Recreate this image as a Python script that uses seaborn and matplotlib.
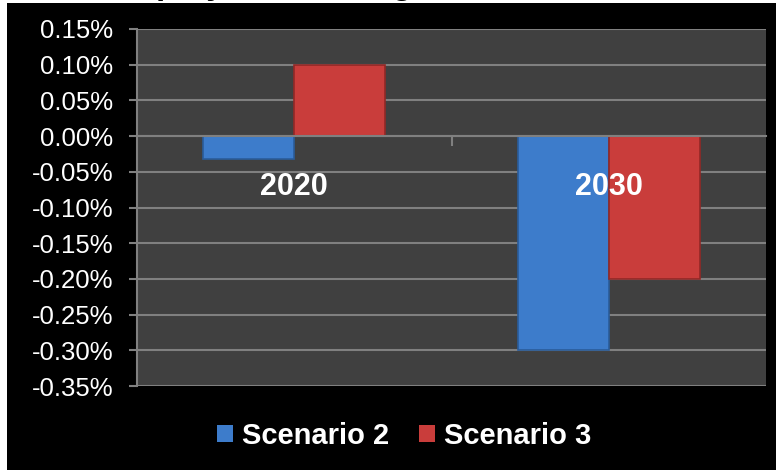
import matplotlib
matplotlib.use("Agg")
import matplotlib.pyplot as plt
from matplotlib.patches import Rectangle
from matplotlib.ticker import FixedLocator, FuncFormatter
import pandas as pd
import seaborn as sns

# Employment change by year and scenario (percent)
years = ["2020", "2030"]
scenarios = ["Scenario 2", "Scenario 3"]
scenario2 = [-0.032, -0.30]
scenario3 = [0.10, -0.20]
y_ticks = [0.15, 0.10, 0.05, 0.00, -0.05, -0.10, -0.15, -0.20, -0.25, -0.30, -0.35]
title = "Employment change"

df = pd.DataFrame({
    "year": years * 2,
    "scenario": [scenarios[0]] * len(years) + [scenarios[1]] * len(years),
    "change": scenario2 + scenario3,
})

plt.rcParams["font.family"] = ["Liberation Sans", "DejaVu Sans"]

W, H = 776, 470
fig = plt.figure(figsize=(W / 100, H / 100), dpi=100, facecolor="white")

# black chart area with a thin white margin at the top and left
fig.patches.append(Rectangle((7 / W, 0), 1 - 7 / W, 1 - 3 / H,
                             transform=fig.transFigure, facecolor="black",
                             edgecolor="none", zorder=-5))
fig.text(104 / W, 1 + 6 / H, title, ha="left", va="baseline",
         fontsize=24, fontweight="bold", color="black", zorder=-4)

left, right, top, bottom = 137, 766, 29, 386
ax = fig.add_axes([left / W, 1 - bottom / H, (right - left) / W, (bottom - top) / H])
ax.set_facecolor("#404040")

palette = {"Scenario 2": "#3D7CCB", "Scenario 3": "#C93D3B"}
edges = {"Scenario 2": "#2A5C9A", "Scenario 3": "#922826"}
sns.barplot(data=df, x="year", y="change", hue="scenario", hue_order=scenarios,
            palette=palette, width=0.58, gap=0, ax=ax, legend=True,
            saturation=1, zorder=2)
for cont, sc in zip(ax.containers, scenarios):
    for bar in cont:
        bar.set_edgecolor(edges[sc])
        bar.set_linewidth(1.2)

ax.set_ylim(min(y_ticks), max(y_ticks))
ax.set_xlim(-0.5, len(years) - 0.5)
ax.yaxis.set_major_locator(FixedLocator(y_ticks))
ax.yaxis.set_major_formatter(FuncFormatter(lambda v, p: f"{v:.2f}%"))
ax.set_axisbelow(True)
ax.grid(axis="y", color="#808080", linewidth=1.5)
ax.grid(axis="x", visible=False)
ax.set_xlabel("")
ax.set_ylabel("")

for s in ["top", "right"]:
    ax.spines[s].set_visible(False)
ax.spines["left"].set_color("#808080")
ax.spines["left"].set_linewidth(1.5)
ax.spines["bottom"].set_position(("data", 0))
ax.spines["bottom"].set_color("#808080")
ax.spines["bottom"].set_linewidth(1.5)

ax.tick_params(axis="y", colors="#808080", length=6, width=1.5, direction="out",
               pad=11, labelsize=18.5, labelcolor="white")
ax.set_xticks(range(len(years)))
ax.set_xticklabels([])
ax.tick_params(axis="x", length=0)
ax.xaxis.set_minor_locator(FixedLocator([0.5]))
ax.tick_params(axis="x", which="minor", length=7.5, width=1.5,
               colors="#808080", direction="out")

# category labels sit just under the zero line, above the bars
for i, yr in enumerate(years):
    ax.text(i, -0.071, yr, ha="center", va="center", fontsize=22,
            fontweight="bold", color="white", zorder=5)

leg = ax.legend(loc="center", bbox_to_anchor=(404 / W, 1 - 436 / H),
                bbox_transform=fig.transFigure, ncol=2, frameon=False,
                handlelength=0.55, handleheight=0.55, handletextpad=0.3,
                columnspacing=1.05, prop={"size": 21, "weight": "bold"})
for t in leg.get_texts():
    t.set_color("white")

fig.savefig("out.png", dpi=100, facecolor=fig.get_facecolor())
